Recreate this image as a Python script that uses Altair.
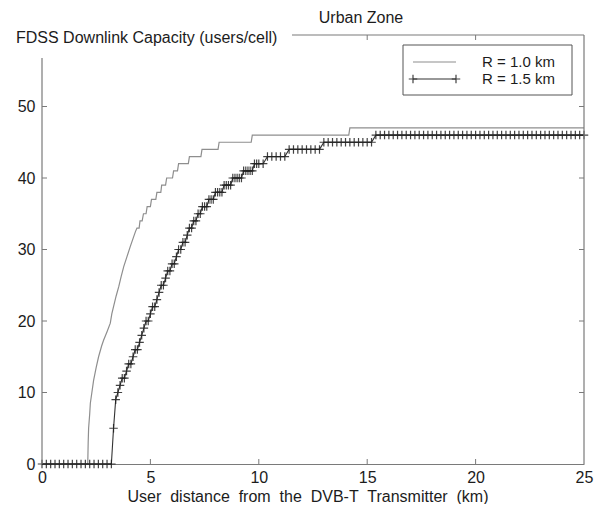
import altair as alt
import pandas as pd

W, H = 542, 429

series_names = ["R = 1.0 km", "R = 1.5 km"]
chart_title = "Urban Zone"
y_title = "FDSS Downlink Capacity (users/cell)"
x_title = "User\u00a0 distance\u00a0 from\u00a0 the\u00a0 DVB-T\u00a0 Transmitter\u00a0 (km)"

# R = 1.0 km (grey line, no markers)
r10_x = [0, 2.11, 2.13, 2.15, 2.20, 2.23, 2.30, 2.38, 2.50, 2.61,
         2.75, 2.84, 3.00, 3.15, 3.22, 3.30, 3.42, 3.54, 3.65, 3.77,
         3.92, 4.07, 4.23, 4.31, 4.38, 4.48, 4.52, 4.62, 4.68, 4.80,
         4.85, 5.00, 5.05, 5.25, 5.30, 5.48, 5.52, 5.70, 5.75, 6.02,
         6.07, 6.25, 6.30, 6.75, 6.80, 7.33, 7.38, 8.12, 8.17, 9.65,
         9.70, 14.15, 14.20, 25.0]
r10_y = [0, 0, 3, 5, 7, 8.5, 10, 11.7, 13.5, 15,
         16.5, 17.3, 18.5, 19.7, 21, 22, 23.5, 24.8, 26.2, 27.6,
         29, 30.4, 31.8, 32.5, 33, 33, 34, 34, 35, 35,
         36, 36, 37, 37, 38, 38, 39, 39, 40, 40,
         41, 41, 42, 42, 43, 43, 44, 44, 45, 45,
         46, 46, 47, 47]

# R = 1.5 km (dark line with + markers)
r15_x = [0.0, 0.2, 0.4, 0.6, 0.8, 1.0, 1.2, 1.4, 1.6, 1.8, 2.0, 2.2, 2.4, 2.6, 2.8, 3.0, 3.2,
         3.3, 3.4, 3.5, 3.6, 3.7, 3.8, 3.9, 4.0, 4.1, 4.2,
         4.3, 4.4, 4.5, 4.6, 4.7, 4.8, 4.9, 5.0, 5.1, 5.2,
         5.3, 5.4, 5.5, 5.6, 5.7, 5.8, 5.9, 6.0, 6.1, 6.2,
         6.3, 6.4, 6.5, 6.6, 6.7, 6.8, 6.9, 7.0, 7.1, 7.2,
         7.3, 7.4, 7.5, 7.6, 7.7, 7.8, 7.9, 8.0, 8.1, 8.2,
         8.3, 8.4, 8.5, 8.6, 8.7, 8.8, 8.9, 9.0, 9.1, 9.2,
         9.3, 9.4, 9.5, 9.6, 9.7, 9.8, 9.9, 10.0,
         10.2, 10.4, 10.6, 10.8, 11.0, 11.2, 11.4, 11.6, 11.8, 12.0,
         12.2, 12.4, 12.6, 12.8, 13.0, 13.2, 13.4, 13.6, 13.8, 14.0,
         14.2, 14.4, 14.6, 14.8, 15.0, 15.2, 15.4, 15.6, 15.8, 16.0,
         16.2, 16.4, 16.6, 16.8, 17.0, 17.2, 17.4, 17.6, 17.8, 18.0,
         18.2, 18.4, 18.6, 18.8, 19.0, 19.2, 19.4, 19.6, 19.8, 20.0,
         20.2, 20.4, 20.6, 20.8, 21.0, 21.2, 21.4, 21.6, 21.8, 22.0,
         22.2, 22.4, 22.6, 22.8, 23.0, 23.2, 23.4, 23.6, 23.8, 24.0,
         24.2, 24.4, 24.6, 24.8, 25.0]
r15_y = [0, 0, 0, 0, 0, 0, 0, 0, 0, 0, 0, 0, 0, 0, 0, 0, 0,
         5, 9, 10, 11, 12, 12, 13, 14, 14, 15,
         16, 16, 17, 18, 19, 20, 20, 21, 22, 22,
         23, 24, 25, 25, 26, 27, 27, 28, 28, 29,
         30, 30, 31, 31, 32, 33, 33, 34, 34, 35,
         35, 36, 36, 36, 37, 37, 37, 38, 38, 38,
         38, 39, 39, 39, 39, 40, 40, 40, 40, 40,
         41, 41, 41, 41, 41, 42, 42, 42,
         42, 43, 43, 43, 43, 43, 44, 44, 44, 44,
         44, 44, 44, 44, 45, 45, 45, 45, 45, 45,
         45, 45, 45, 45, 45, 45, 46, 46, 46, 46,
         46, 46, 46, 46, 46, 46, 46, 46, 46, 46,
         46, 46, 46, 46, 46, 46, 46, 46, 46, 46,
         46, 46, 46, 46, 46, 46, 46, 46, 46, 46,
         46, 46, 46, 46, 46, 46, 46, 46, 46, 46,
         46, 46, 46, 46, 46]

x_ticks = [0, 5, 10, 15, 20, 25]
y_ticks = [0, 10, 20, 30, 40, 50]
x_inner_ticks = [5, 10, 15, 20]
x_top_ticks = [15, 20]
y_inner_ticks = [10, 20, 30, 40, 50]

FONT = "Liberation Sans"
TXT = "#1c1c1c"
AX = "#7a7a7a"
PLUS = "M-1,0L1,0M0,-1L0,1"

df10 = pd.DataFrame({"x": r10_x, "y": r10_y})
df15 = pd.DataFrame({"x": r15_x, "y": r15_y})
one = pd.DataFrame({"k": [0]})

xs = alt.Scale(domain=[0, 25], nice=False, zero=False)
ys = alt.Scale(domain=[0, 60], nice=False, zero=False)

x_axis = alt.Axis(
    values=x_ticks, title=None, format="d", labelFont=FONT, labelFontSize=16,
    labelColor=TXT, tickSize=0, labelPadding=5, domainColor=AX, domainWidth=1.2,
    grid=False, labelFlush=False)
y_axis = alt.Axis(
    values=y_ticks, title=None, format="d", labelFont=FONT, labelFontSize=16,
    labelColor=TXT, tickSize=0, labelPadding=7, domain=False, grid=False,
    labelFlush=False)
X = alt.X("x:Q", scale=xs, axis=x_axis)
Y = alt.Y("y:Q", scale=ys, axis=y_axis)

line10 = alt.Chart(df10).mark_line(color="#8e8e8e", strokeWidth=1.2).encode(x=X, y=Y)
line15 = alt.Chart(df15).mark_line(color="#333333", strokeWidth=1.1).encode(x=X, y=Y)
pts15 = alt.Chart(df15).mark_point(shape=PLUS, size=72, filled=False, color="#222222",
                                   strokeWidth=1.2, opacity=0.85).encode(x=X, y=Y)

# frame (partial, as in the original figure)
frame_left = alt.Chart(one).mark_rule(color=AX, strokeWidth=1.2).encode(
    x=alt.value(0), y=alt.value(23), y2=alt.value(H))
frame_right = alt.Chart(one).mark_rule(color=AX, strokeWidth=1.2).encode(
    x=alt.value(W), y=alt.value(0), y2=alt.value(H))
frame_top = alt.Chart(one).mark_rule(color=AX, strokeWidth=1.2).encode(
    x=alt.value(250), x2=alt.value(W), y=alt.value(0))

# inward ticks
tk_bottom = alt.Chart(pd.DataFrame({"x": x_inner_ticks})).mark_rule(color=AX).encode(
    x=X, y=alt.value(H), y2=alt.value(H - 5))
tk_top = alt.Chart(pd.DataFrame({"x": x_top_ticks})).mark_rule(color=AX).encode(
    x=X, y=alt.value(0), y2=alt.value(5))
tk_left = alt.Chart(pd.DataFrame({"y": y_inner_ticks})).mark_rule(color=AX).encode(
    y=Y, x=alt.value(0), x2=alt.value(5))
tk_right = alt.Chart(pd.DataFrame({"y": y_inner_ticks})).mark_rule(color=AX).encode(
    y=Y, x=alt.value(W), x2=alt.value(W - 5))

# texts
t_title = alt.Chart(one).mark_text(text=chart_title, font=FONT, fontSize=16, color=TXT,
                                   align="center", baseline="middle").encode(
    x=alt.value(319), y=alt.value(-17))
t_ytitle = alt.Chart(one).mark_text(text=y_title, font=FONT, fontSize=16, color=TXT,
                                    align="left", baseline="middle").encode(
    x=alt.value(-26), y=alt.value(3))
t_xtitle = alt.Chart(one).mark_text(text=x_title, font=FONT, fontSize=16, color=TXT,
                                    align="center", baseline="middle").encode(
    x=alt.value(266), y=alt.value(462))

# legend (drawn inside the plot)
lg_box = alt.Chart(one).mark_rect(fill="white", stroke="#555555", strokeWidth=1).encode(
    x=alt.value(361), x2=alt.value(530), y=alt.value(10), y2=alt.value(60))
lg_l1 = alt.Chart(one).mark_rule(color="#8e8e8e", strokeWidth=1.2).encode(
    x=alt.value(371), x2=alt.value(414), y=alt.value(27))
lg_l2 = alt.Chart(one).mark_rule(color="#333333", strokeWidth=1.1).encode(
    x=alt.value(371), x2=alt.value(414), y=alt.value(44))
lg_p1 = alt.Chart(one).mark_point(shape=PLUS, size=72, filled=False, color="#222222",
                                  strokeWidth=1.2, opacity=0.85).encode(
    x=alt.value(371), y=alt.value(44))
lg_p2 = alt.Chart(one).mark_point(shape=PLUS, size=72, filled=False, color="#222222",
                                  strokeWidth=1.2, opacity=0.85).encode(
    x=alt.value(414), y=alt.value(44))
lg_t1 = alt.Chart(one).mark_text(text=series_names[0], font=FONT, fontSize=15, color=TXT,
                                 align="left", baseline="middle").encode(
    x=alt.value(440), y=alt.value(27))
lg_t2 = alt.Chart(one).mark_text(text=series_names[1], font=FONT, fontSize=15, color=TXT,
                                 align="left", baseline="middle").encode(
    x=alt.value(440), y=alt.value(44))

chart = alt.layer(
    line10, line15, pts15,
    frame_left, frame_right, frame_top,
    tk_bottom, tk_top, tk_left, tk_right,
    t_title, t_ytitle, t_xtitle,
    lg_box, lg_l1, lg_l2, lg_p1, lg_p2, lg_t1, lg_t2,
).properties(
    width=W, height=H,
    padding={"left": 34, "top": 27, "right": 12, "bottom": 40},
    autosize=alt.AutoSizeParams(type="none"),
    background="white",
).configure_view(stroke=None)

chart.save("out.html", embed_options={"renderer": "svg", "actions": False})
